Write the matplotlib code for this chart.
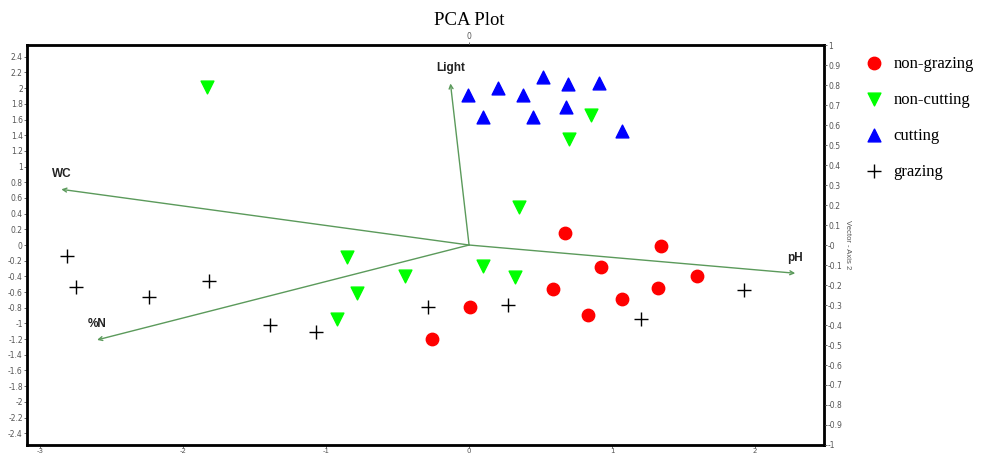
import numpy as np
import matplotlib.pyplot as plt

# sample scores (axis 1, axis 2)
non_grazing_x = [0.67, 1.34, 0.92, 1.59, 0.59, 1.32, 1.07, 0.01, 0.83, -0.26]
non_grazing_y = [0.15, -0.01, -0.28, -0.39, -0.56, -0.55, -0.69, -0.79, -0.89, -1.20]
non_cutting_x = [-1.83, 0.85, 0.70, 0.35, -0.85, 0.10, -0.45, 0.32, -0.78, -0.92]
non_cutting_y = [2.01, 1.66, 1.35, 0.48, -0.15, -0.27, -0.39, -0.41, -0.61, -0.94]
cutting_x = [0.52, -0.01, 0.20, 0.38, 0.69, 0.91, 0.68, 0.10, 0.45, 1.07]
cutting_y = [2.14, 1.91, 2.00, 1.91, 2.05, 2.06, 1.76, 1.63, 1.63, 1.46]
grazing_x = [-2.81, -2.75, -2.24, -1.82, -1.39, -1.07, -0.29, 0.27, 1.20, 1.92]
grazing_y = [-0.14, -0.53, -0.66, -0.46, -1.02, -1.11, -0.79, -0.76, -0.94, -0.57]

# environmental vectors
vec_names = ['Light', 'WC', '%N', 'pH']
vec_x = [-0.13, -2.85, -2.60, 2.28]
vec_y = [2.06, 0.71, -1.21, -0.36]

fig = plt.figure(figsize=(9.85, 4.55), dpi=100)
ax = fig.add_axes([0.0274, 0.022, 0.809, 0.879])

vec_col = '#5b9a5b'
for name, vx, vy in zip(vec_names, vec_x, vec_y):
    ax.annotate('', xy=(vx, vy), xytext=(0, 0),
                arrowprops=dict(arrowstyle='->', color=vec_col, lw=1.0,
                                mutation_scale=7, shrinkA=0, shrinkB=0))
    ax.text(vx, vy + 0.12, name, ha='center', va='bottom', fontsize=8.5,
            fontweight='bold', family='Liberation Sans', color='#222222')

ax.scatter(non_grazing_x, non_grazing_y, marker='o', s=80, color='#ff0000',
           label='non-grazing', zorder=3)
ax.scatter(non_cutting_x, non_cutting_y, marker='v', s=85, color='#00ff00',
           label='non-cutting', zorder=3)
ax.scatter(cutting_x, cutting_y, marker='^', s=85, color='#0000ff',
           label='cutting', zorder=3)
ax.scatter(grazing_x, grazing_y, marker='+', s=110, color='black', lw=1.0,
           label='grazing', zorder=3)

ax.set_xlim(-3.09, 2.48)
ax.set_ylim(-2.55, 2.55)
ax.set_xticks(np.arange(-3, 3, 1))
ax.set_yticks(np.round(np.arange(-2.4, 2.41, 0.2), 1))
ax.xaxis.set_major_formatter(plt.FormatStrFormatter('%g'))
ax.yaxis.set_major_formatter(plt.FuncFormatter(lambda v, p: '%g' % round(v, 1)))
ax.tick_params(labelsize=5.5, length=2, width=0.6, pad=1, colors='#555555')
ax.tick_params(axis='x', labelsize=5, pad=0)
for sp in ax.spines.values():
    sp.set_linewidth(2)

axr = ax.twinx()
axr.set_ylim(-1, 1)
axr.set_yticks(np.round(np.arange(-1, 1.01, 0.1), 1))
axr.yaxis.set_major_formatter(plt.FuncFormatter(lambda v, p: '%g' % round(v, 1)))
axr.tick_params(labelsize=5.5, length=2, width=0.6, pad=1, colors='#555555')
axr.set_ylabel('Vector - Axis 2', rotation=-90, fontsize=5.5, color='#555555',
               labelpad=6, family='Liberation Sans')

axt = ax.twiny()
axt.set_xlim(ax.get_xlim())
axt.set_xticks([0])
axt.xaxis.set_major_formatter(plt.FormatStrFormatter('%g'))
axt.tick_params(labelsize=5.5, length=2, width=0.6, pad=1, colors='#555555')

fig.text(0.476, 0.955, 'PCA Plot', ha='center', va='center', fontsize=13.5,
         family='Liberation Serif')

ax.legend(loc='upper left', bbox_to_anchor=(1.034, 0.99), frameon=False,
          prop={'family': 'Liberation Serif', 'size': 12}, labelspacing=1.2,
          handletextpad=0.15, borderaxespad=0)

fig.savefig('out.png', dpi=100)
